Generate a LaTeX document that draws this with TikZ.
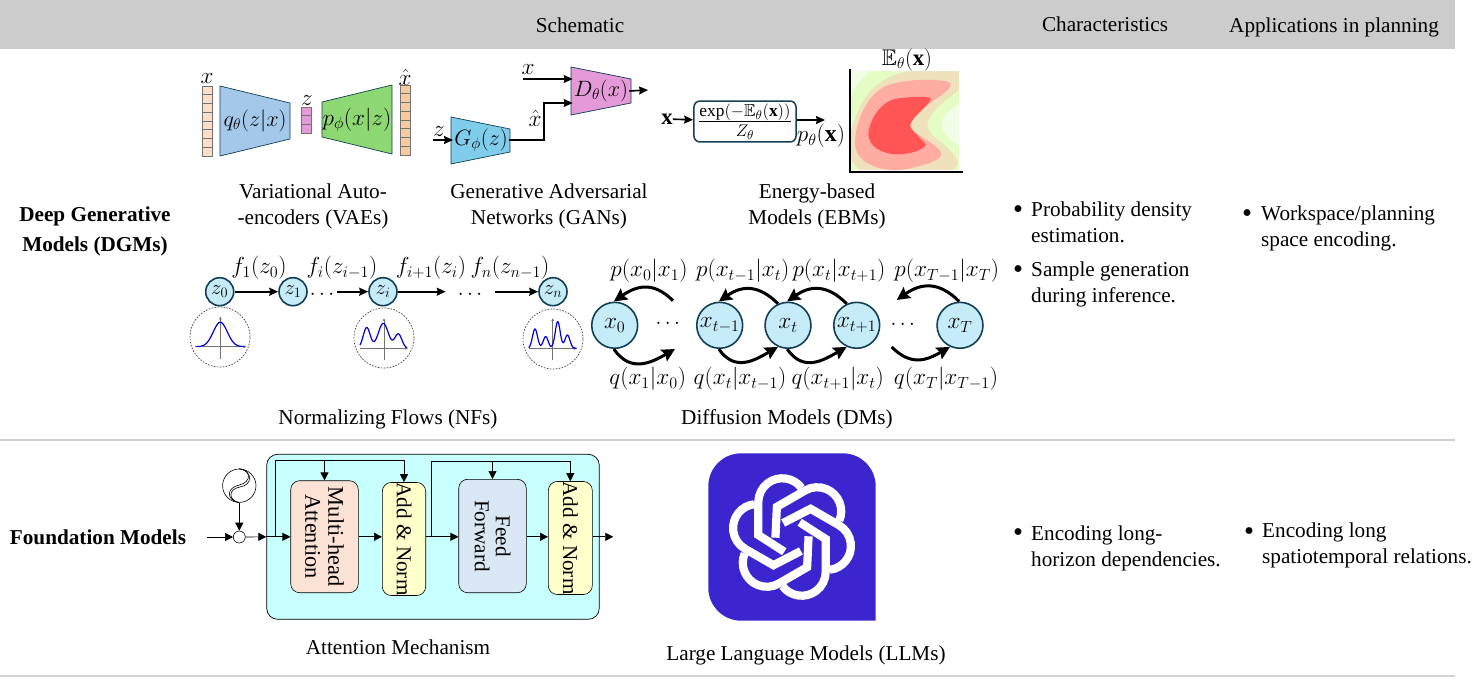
\documentclass[tikz,border=0pt]{standalone}
\usepackage{fontspec}
\usepackage{amssymb}
\setmainfont{Liberation Serif}
\usetikzlibrary{arrows.meta}
\definecolor{headgray}{HTML}{CCCCCC}
\definecolor{rulegray}{HTML}{D0D0D0}
\definecolor{edgeteal}{HTML}{123F55}
\definecolor{nodeblue}{HTML}{C6ECFA}
\definecolor{cellpale}{HTML}{FDDFC8}
\definecolor{celldeep}{HTML}{F9C9A0}
\definecolor{pinkish}{HTML}{E49AD8}
\definecolor{encblue}{HTML}{A4C8EA}
\definecolor{decgreen}{HTML}{8DD873}
\definecolor{genblue}{HTML}{7FCCEB}
\definecolor{heatlight}{HTML}{F1FDE6}
\definecolor{heatgreen}{HTML}{E3FDC4}
\definecolor{heattan}{HTML}{EFE1BC}
\definecolor{heatpink}{HTML}{FFADA3}
\definecolor{heatred}{HTML}{FF5555}
\definecolor{attcyan}{HTML}{C8FFFF}
\definecolor{attpeach}{HTML}{FDE3D6}
\definecolor{attyellow}{HTML}{FFFFCC}
\definecolor{attblue}{HTML}{DAE8F5}
\definecolor{logoblue}{HTML}{3A25CF}

\begin{document}
\begin{tikzpicture}[
  x=1pt, y=-1pt,
  declare function = {gs(\t,\m,\s,\h) = \h*exp(-((\t-\m)*(\t-\m))/(2*\s*\s));},
  every node/.style = {font=\fontsize{21.2}{26}\selectfont, inner sep=0pt, align=center},
  mathlab/.style = {scale=1.12},
  mathmid/.style = {scale=1.07},
  bullet/.style = {scale=1.35},
  trap/.style = {draw=edgeteal, line width=0.7pt},
  cell/.style = {draw=black!55, line width=0.6pt},
  state/.style = {shape=circle, draw=edgeteal, fill=nodeblue, line width=1.6pt},
  flow/.style = {line width=1.6pt, -{Stealth[length=9pt,width=8pt,inset=1pt]}},
  bigflow/.style = {line width=3pt, looseness=1.2, -{Stealth[length=13pt,width=13pt,inset=2pt]}},
  thinflow/.style = {line width=0.7pt, -{Triangle[length=8pt,width=8pt]}},
  block/.style = {draw=black, line width=0.6pt, rotate=-90, rounded corners=9pt, align=center},
  distcirc/.style = {shape=circle, draw=black!75, dash pattern=on 1.6pt off 1.4pt, line width=0.7pt, minimum size=60pt},
  axis/.style = {draw=black!55, line width=0.7pt},
  curve/.style = {draw=blue!85!black, line width=1.2pt}
  ]
  \useasboundingbox (0,0) rectangle (1475,680);

  % table frame
  \fill[headgray] (0,0) rectangle (1455,49);
  \draw[rulegray, line width=2pt] (0,440) -- (1455,440);
  \draw[rulegray, line width=2pt] (0,675.5) -- (1455,675.5);
  \node (schematic) at (580,25) {Schematic};
  \node (charact) at (1105,24) {Characteristics};
  \node (applic) at (1334,27) {Applications in planning};
  \node[font=\fontsize{21.2}{26}\selectfont\bfseries] (dgm) at (95,231) {Deep Generative\\[4pt]Models (DGMs)};
  \node[font=\fontsize{21.2}{26}\selectfont\bfseries] (found) at (98,537) {Foundation Models};

  % VAE
  \foreach \i in {0,...,7}
    \draw[cell, fill=cellpale] (202,{86+8.75*\i}) rectangle ++(10,8.75);
  \foreach \i in {0,...,7}
    \draw[cell, fill=celldeep] (400,{85+8.75*\i}) rectangle ++(10,8.75);
  \foreach \i in {0,...,2}
    \draw[cell, fill=pinkish] (301,{107+8.7*\i}) rectangle ++(10,8.7);
  \draw[trap, fill=encblue] (220,86) -- (290,103) -- (290,139) -- (220,156) -- cycle;
  \draw[trap, fill=decgreen] (322,102) -- (392,85) -- (392,154) -- (322,137) -- cycle;
  \node[mathmid] (enc) at (255,121) {$q_\theta(z|x)$};
  \node[mathlab] (dec) at (357,120) {$p_\phi(x|z)$};
  \node[mathlab] (xin) at (207,78) {$x$};
  \node[mathlab] (xout) at (405,77) {$\hat{x}$};
  \node[mathlab] (zmid) at (307,100) {$z$};
  \node (vaecap) at (313,206.5) {Variational Auto-\\-encoders (VAEs)};

  % GAN
  \draw[trap, fill=genblue] (451,117) -- (510,129) -- (510,152) -- (451,164) -- cycle;
  \draw[trap, fill=pinkish] (571,67) -- (631,79) -- (631,103) -- (571,115) -- cycle;
  \node[mathmid, inner sep=1pt] (gen) at (481,140) {$G_\phi(z)$};
  \node[mathmid, inner sep=1pt] (disc) at (601,91) {$D_\theta(x)$};
  \node[mathlab] (zgan) at (439,131) {$z$};
  \node[mathlab] (xgan) at (528,69) {$x$};
  \node[mathlab] (xhat) at (535,118) {$\hat{x}$};
  \coordinate (zstart) at (433,140);
  \coordinate (xstart) at (523,79);
  \coordinate (hatmid) at (544,103);
  \coordinate (dout) at (648,90);
  \draw[flow] (zstart) -- (gen.west);
  \draw[flow] (xstart) -- (xstart -| disc.west);
  \draw[flow] (gen.east) -| (hatmid) -- (hatmid -| disc.west);
  \draw[flow] (disc.east) -- (dout);
  \node (gancap) at (549,206.5) {Generative Adversarial\\Networks (GANs)};

  % EBM
  \node[mathmid] (xebm) at (667,119) {$\mathbf{x}$};
  \node[draw=edgeteal, line width=1.5pt, scale=1.17, rounded corners=6pt, minimum width=87.2pt, minimum height=35pt] (ebm) at (745,121.5)
    {$\frac{\exp(-\mathbb{E}_\theta(\mathbf{x}))}{Z_\theta}$};
  \coordinate (ebmout) at (825,120);
  \node[mathlab] (pebm) at (821,136) {$p_\theta(\mathbf{x})$};
  \node[mathmid] (eebm) at (907,60) {$\mathbb{E}_\theta(\mathbf{x})$};
  \draw[flow] (xebm) -- (ebm);
  \draw[flow] (ebm.east |- ebmout) -- (ebmout);
  \begin{scope}[shift={(845,65)}, scale=0.3333]
    \fill[heatgreen] (18,18) rectangle (342,315);
    \fill[heatlight] (18,18) -- (75,18) .. controls (50,40) and (30,65) .. (18,90) -- cycle;
    \fill[heatlight] (342,115) .. controls (310,135) and (288,160) .. (290,180) .. controls (292,205) and (315,225) .. (342,240) -- cycle;
    \fill[heattan] (18,200) .. controls (40,110) and (90,30) .. (200,18) -- (342,18) -- (342,75)
      .. controls (290,115) and (245,150) .. (247,185) .. controls (250,215) and (330,250) .. (340,295)
      -- (325,315) -- (45,315) .. controls (30,300) and (18,290) .. (18,270) -- cycle;
    \fill[heatpink] (30,235) .. controls (30,170) and (70,80) .. (130,60) .. controls (190,40) and (300,40) .. (317,55)
      .. controls (325,75) and (260,105) .. (225,140) .. controls (200,165) and (190,180) .. (200,195)
      .. controls (240,225) and (295,250) .. (288,270) .. controls (280,290) and (240,300) .. (180,313)
      .. controls (130,320) and (90,310) .. (60,290) .. controls (40,275) and (30,255) .. (30,235) -- cycle;
    \fill[heatred] (70,205) .. controls (75,160) and (110,110) .. (150,102) .. controls (190,95) and (245,92) .. (258,100)
      .. controls (255,120) and (205,150) .. (195,180) .. controls (195,195) and (235,225) .. (243,240)
      .. controls (235,255) and (190,270) .. (150,268) .. controls (110,265) and (70,245) .. (70,205) -- cycle;
  \end{scope}
  \draw[line width=2.3pt] (849.7,69) -- (849.7,171.7) -- (963,171.7);
  \node (ebmcap) at (817,206) {Energy-based\\Models (EBMs)};

  % normalizing flows
  \node[state, minimum size=28pt] (z0) at (219.7,291.7) {$z_0$};
  \node[state, minimum size=28pt] (z1) at (293,291.7) {$z_1$};
  \node[state, minimum size=28pt] (zi) at (383,291.7) {$z_i$};
  \node[state, minimum size=28pt] (zn) at (553,291.7) {$z_n$};
  \node (dots1) at (322,295) {$\cdots$};
  \node (dots2) at (470,295) {$\cdots$};
  \draw[flow] (z0) -- (z1);
  \draw[flow, shorten <=3pt] (dots1.east |- zi) -- (zi);
  \draw[flow, shorten >=12pt] (zi) -- (dots2.west |- zi);
  \draw[flow, shorten <=13pt] (dots2.east |- zi) -- (zn);
  \node[mathlab] (f1) at (259,268) {$f_1(z_0)$};
  \node[mathlab] (fi) at (342,268) {$f_i(z_{i-1})$};
  \node[mathlab] (fj) at (431,268) {$f_{i+1}(z_i)$};
  \node[mathlab] (fn) at (510,268) {$f_n(z_{n-1})$};
  \node[distcirc] (d0) at (220,337) {};
  \node[distcirc] (di) at (384,338) {};
  \node[distcirc] (dn) at (553,339) {};
  \begin{scope}[shift={(220.3,346.7)}]
    \draw[axis, -{Stealth[length=3pt,width=3pt]}] (-25,0) -- (26,0);
    \draw[axis, -{Stealth[length=3pt,width=3pt]}] (0,12) -- (0,-30);
    \draw[curve] plot[domain=-24:24,samples=50,smooth] (\x,{-gs(\x,0,7,24.5)});
  \end{scope}
  \begin{scope}[shift={(384,348.3)}]
    \draw[axis, -{Stealth[length=3pt,width=3pt]}] (-24,0) -- (24,0);
    \draw[axis, -{Stealth[length=3pt,width=3pt]}] (0,12) -- (0,-30);
    \draw[curve] plot[domain=-24:23,samples=70,smooth] (\x,{-gs(\x,-17.3,3.5,20.7)-gs(\x,-0.7,5,25)-gs(\x,14.3,3.5,14.3)});
  \end{scope}
  \begin{scope}[shift={(552.7,348.3)}]
    \draw[axis, -{Stealth[length=3pt,width=3pt]}] (-24,0) -- (24,0);
    \draw[axis, -{Stealth[length=3pt,width=3pt]}] (0,12) -- (0,-30);
    \draw[curve] plot[domain=-24:24,samples=90,smooth] (\x,{-gs(\x,-17.7,2.5,19.3)-gs(\x,-7,2.5,11.7)-gs(\x,5,2.5,26.7)-gs(\x,14.7,2.5,13.3)});
  \end{scope}
  \node (nfcap) at (388,419) {Normalizing Flows (NFs)};

  % diffusion
  \node[state, mathlab, minimum size=41pt] (x0) at (614.7,325.3) {$x_0$};
  \node[state, mathlab, minimum size=41pt] (xa) at (719.7,325.3) {$x_{t-1}$};
  \node[state, mathlab, minimum size=41pt] (xt) at (788,325.3) {$x_t$};
  \node[state, mathlab, minimum size=41pt] (xb) at (856.7,325.3) {$x_{t+1}$};
  \node[state, mathlab, minimum size=41pt] (xT) at (960,325.3) {$x_T$};
  \node (ddots1) at (667.7,324) {$\cdots$};
  \node (ddots2) at (902.7,325) {$\cdots$};
  \coordinate (tl) at (673,300.7);
  \coordinate (tr) at (896.7,300);
  \coordinate (bl) at (675,349);
  \coordinate (br) at (891.7,347);
  \draw[bigflow] (tl) to[out=135,in=35] (x0.92);
  \draw[bigflow] (xt.115) to[out=135,in=35] (xa.92);
  \draw[bigflow] (xb.115) to[out=135,in=35] (xt.92);
  \draw[bigflow] (xT.92) to[out=135,in=35] (tr);
  \draw[bigflow] (x0.-92) to[out=-55,in=210] (bl);
  \draw[bigflow] (xa.-92) to[out=-55,in=210] (xt.-115);
  \draw[bigflow] (xt.-92) to[out=-55,in=210] (xb.-115);
  \draw[bigflow] (br) to[out=-45,in=210] (xT.-115);
  \node[mathlab] (p0) at (649,271) {$p(x_0|x_1)$};
  \node[mathlab] (pa) at (742.7,271) {$p(x_{t-1}|x_t)$};
  \node[mathlab] (pb) at (839,271) {$p(x_t|x_{t+1})$};
  \node[mathlab] (pT) at (946.7,271) {$p(x_{T-1}|x_T)$};
  \node[mathlab] (q0) at (647.7,379) {$q(x_1|x_0)$};
  \node[mathlab] (qa) at (740,379) {$q(x_t|x_{t-1})$};
  \node[mathlab] (qb) at (837.7,379) {$q(x_{t+1}|x_t)$};
  \node[mathlab] (qT) at (946,379) {$q(x_T|x_{T-1})$};
  \node (dmcap) at (787,419) {Diffusion Models (DMs)};

  % bullets
  \node[bullet] (b1) at (1018,212) {•};
  \node[anchor=west, align=left] (t1) at (1031,222) {Probability density\\estimation.};
  \node[bullet] (b2) at (1018,272) {•};
  \node[anchor=west, align=left] (t2) at (1031,284) {Sample generation\\during inference.};
  \node[bullet] (b3) at (1247,216) {•};
  \node[anchor=west, align=left] (t3) at (1261,228) {Workspace/planning\\space encoding.};
  \node[bullet] (b4) at (1018,535) {•};
  \node[anchor=west, align=left] (t4) at (1031,548) {Encoding long-\\horizon dependencies.};
  \node[bullet] (b5) at (1249,534) {•};
  \node[anchor=west, align=left] (t5) at (1262,545) {Encoding long\\spatiotemporal relations.};

  % attention
  \node[draw=black, line width=0.7pt, fill=attcyan, rounded corners=11pt, minimum width=332.6pt, minimum height=165pt] (bigbox) at (433,536.8) {};
  \node[block, fill=attpeach, minimum width=112pt, minimum height=67.6pt, font=\fontsize{22.4}{23}\selectfont] (mh) at (324.5,536.7) {Multi-head\\Attention};
  \node[block, fill=attyellow, minimum width=112.6pt, minimum height=43.4pt] (add1) at (404,539) {Add \& Norm};
  \node[block, fill=attblue, minimum width=113.4pt, minimum height=67.6pt, font=\fontsize{21.2}{21}\selectfont] (ff) at (492.5,536) {Feed\\Forward};
  \node[block, fill=attyellow, minimum width=112.6pt, minimum height=44pt] (add2) at (570.3,538) {Add \& Norm};
  \node[shape=circle, draw=black, line width=0.6pt, minimum size=33.4pt] (yy) at (239.3,485.7) {};
  \draw[line width=0.6pt] (yy.north) .. controls (251,470) and (252,482) .. (239.3,485) .. controls (226,488) and (226,500) .. (yy.south);
  \draw[line width=0.6pt] (yy.north) .. controls (253,471) and (253,485) .. (240,487) .. controls (228,489) and (228,500) .. (yy.south);
  \node[shape=circle, draw=black, line width=0.6pt, fill=white, minimum size=12pt] (sum) at (239.3,537) {};
  \coordinate (instart) at (207.3,537);
  \coordinate (outend) at (613.3,536.8);
  \coordinate (br1) at (275.7,536.8);
  \coordinate (top1) at (275.7,460);
  \coordinate (br2) at (431.3,536.8);
  \coordinate (top2) at (431.3,461.7);
  \draw[thinflow] (yy) -- (sum);
  \draw[thinflow] (instart) -- (sum);
  \draw[thinflow] (sum) -- (bigbox.west);
  \draw[thinflow] (bigbox.west) -- (bigbox.west -| mh.south);
  \draw[thinflow] (bigbox.west -| mh.north) -- (bigbox.west -| add1.south);
  \draw[thinflow] (bigbox.west -| add1.north) -- (bigbox.west -| ff.south);
  \draw[thinflow] (bigbox.west -| ff.north) -- (bigbox.west -| add2.south);
  \draw[thinflow] (bigbox.west -| add2.north) -- (outend);
  \draw[thinflow] (br1) -- (top1) -| (add1.west);
  \draw[thinflow] (top1 -| mh.west) -- (mh.west);
  \draw[thinflow] (br2) -- (top2) -| (add2.west);
  \draw[thinflow] (top2 -| ff.west) -- (ff.west);
  \node (attcap) at (398,647) {Attention Mechanism};

  % LLM logo
  \fill[logoblue] (800,620.7) [rounded corners=33pt] -- (708.3,620.7) -- (708.3,453.3) -- (875.7,453.3) -- (875.7,560) [sharp corners] -- (875.7,620.7) -- cycle;
  \foreach \a in {0,60,...,300}
    \draw[white, line width=8.2pt, shift={(792,537)}, rotate=\a]
      (9.5,-49.1) arc[start angle=-36.8, end angle=-180, radius=24] -- (-33.7,-2) -- (-7.7,14.7);
  \node (llmcap) at (806,655) {Large Language Models (LLMs)};
\end{tikzpicture}
\end{document}
